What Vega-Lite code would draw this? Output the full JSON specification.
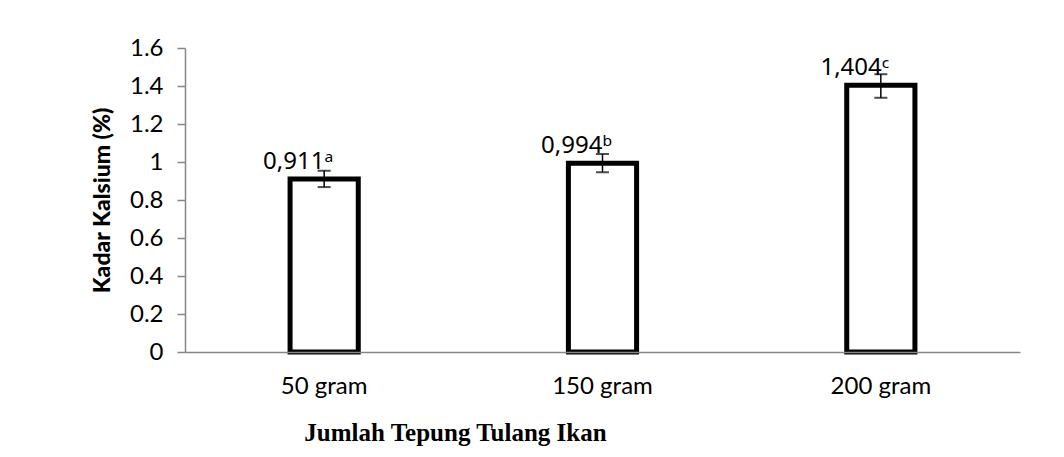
{
  "$schema": "https://vega.github.io/schema/vega-lite/v6.json",
  "autosize": "none",
  "width": 835,
  "height": 304,
  "padding": {"left": 185, "top": 48, "right": 44, "bottom": 105},
  "background": "white",
  "config": {
    "view": {"stroke": null},
    "font": "Lato",
    "axisY": {
      "labelOverlap": false,
      "grid": false,
      "titleFontSize": 23,
      "titleFontWeight": 900,
      "titleColor": "black",
      "titleX": -83,
      "titleY": 152,
      "titleAngle": -90,
      "titleAlign": "center",
      "titleBaseline": "middle",
      "labelFontSize": 24,
      "labelColor": "black",
      "labelPadding": 14,
      "tickSize": 8,
      "tickColor": "#868686",
      "tickWidth": 1.5,
      "domainColor": "#868686",
      "domainWidth": 1.5
    }
  },
  "data": {
    "values": [
      {"jumlah": "50 gram", "kadar": 0.911, "lo": 0.868, "hi": 0.954, "label": "0,911ᵃ"},
      {"jumlah": "150 gram", "kadar": 0.994, "lo": 0.946, "hi": 1.042, "label": "0,994ᵇ"},
      {"jumlah": "200 gram", "kadar": 1.404, "lo": 1.338, "hi": 1.462, "label": "1,404ᶜ"}
    ]
  },
  "encoding": {
    "x": {
      "field": "jumlah",
      "type": "nominal",
      "sort": null,
      "scale": {"paddingInner": 0.755, "paddingOuter": 0.3775},
      "axis": {
        "title": "Jumlah Tepung Tulang Ikan",
        "titleFont": "Liberation Serif",
        "titleFontSize": 25,
        "titleFontWeight": "bold",
        "titleColor": "black",
        "titleX": 270,
        "titleY": 80,
        "titleAlign": "center",
        "titleBaseline": "middle",
        "labelAngle": 0,
        "labelFontSize": 24,
        "labelColor": "black",
        "labelPadding": 22,
        "ticks": false,
        "domainColor": "#868686",
        "domainWidth": 1.5,
        "zindex": 1
      }
    }
  },
  "layer": [
    {
      "mark": {"type": "bar", "fill": "white", "stroke": "black", "strokeWidth": 5},
      "encoding": {
        "y": {
          "field": "kadar",
          "type": "quantitative",
          "scale": {"domain": [0, 1.6], "nice": false},
          "axis": {"values": [0, 0.2, 0.4, 0.6, 0.8, 1, 1.2, 1.4, 1.6], "format": "~g", "title": "Kadar Kalsium (%)"}
        }
      }
    },
    {
      "mark": {"type": "rule", "stroke": "black", "strokeWidth": 1.5},
      "encoding": {
        "y": {"field": "lo", "type": "quantitative", "axis": {"values": [0, 0.2, 0.4, 0.6, 0.8, 1, 1.2, 1.4, 1.6], "format": "~g", "title": "Kadar Kalsium (%)"}},
        "y2": {"field": "hi"}
      }
    },
    {
      "mark": {"type": "tick", "color": "black", "size": 13, "thickness": 2, "orient": "horizontal"},
      "encoding": {"y": {"field": "lo", "type": "quantitative", "axis": {"values": [0, 0.2, 0.4, 0.6, 0.8, 1, 1.2, 1.4, 1.6], "format": "~g", "title": "Kadar Kalsium (%)"}}}
    },
    {
      "mark": {"type": "tick", "color": "black", "size": 13, "thickness": 2, "orient": "horizontal"},
      "encoding": {"y": {"field": "hi", "type": "quantitative", "axis": {"values": [0, 0.2, 0.4, 0.6, 0.8, 1, 1.2, 1.4, 1.6], "format": "~g", "title": "Kadar Kalsium (%)"}}}
    },
    {
      "mark": {"type": "text", "font": "Noto Sans", "fontSize": 24, "color": "black", "dx": -26, "dy": -10, "baseline": "alphabetic", "align": "center"},
      "encoding": {
        "y": {"field": "kadar", "type": "quantitative", "axis": {"values": [0, 0.2, 0.4, 0.6, 0.8, 1, 1.2, 1.4, 1.6], "format": "~g", "title": "Kadar Kalsium (%)"}},
        "text": {"field": "label"}
      }
    }
  ]
}
